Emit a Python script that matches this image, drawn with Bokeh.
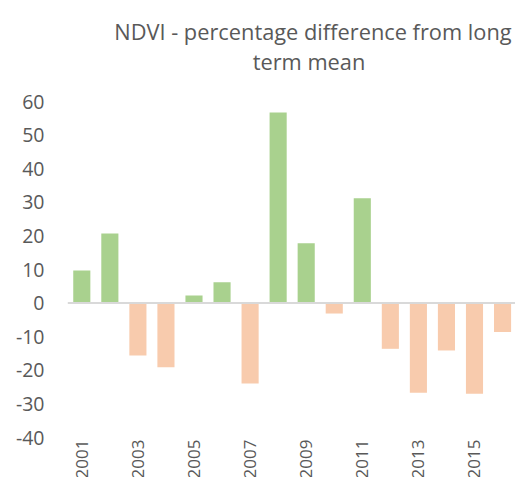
from bokeh.plotting import figure
from bokeh.models import ColumnDataSource, Range1d, FixedTicker, Label, LabelSet
from bokeh.core.properties import value
from bokeh.embed import file_html
from bokeh.resources import INLINE
import math

# ---- data ----
years = list(range(2001, 2018))
ndvi_diff = [9.7, 20.7, -15.6, -19.1, 2.3, 6.2, -23.9, 56.75, 17.8, -3.1,
             31.2, -13.6, -26.7, -14.1, -27.0, -8.6, -18.5]
y_ticks = [-40, -30, -20, -10, 0, 10, 20, 30, 40, 50, 60]
y_tick_labels = [str(t) for t in y_ticks]
x_tick_years = [2001, 2003, 2005, 2007, 2009, 2011, 2013, 2015, 2017]
x_tick_labels = [str(y) for y in x_tick_years]
title_lines = ["NDVI - percentage difference from long", "term mean"]

POS = "#A9D18E"
NEG = "#F8CBAD"
TXT = "#595959"
FONT = "Open Sans"

colors = [POS if v >= 0 else NEG for v in ndvi_diff]
src = ColumnDataSource(dict(x=years, top=ndvi_diff, color=colors))

# frame covers the canvas (except the y-axis strip) so that the title and the
# rotated year labels, which sit outside the -40..60 value band, stay visible
p = figure(width=515, height=477, output_backend="svg", toolbar_location=None,
           x_axis_location=None,
           x_range=Range1d(2000.205, 2016.462),
           y_range=Range1d(-51.9, 90.06),
           min_border_left=59, min_border_right=0,
           min_border_top=0, min_border_bottom=0)
p.outline_line_color = None
p.xgrid.visible = False
p.ygrid.visible = False
p.background_fill_color = "white"
p.border_fill_color = "white"

p.vbar(x="x", top="top", bottom=0, width=0.61, fill_color="color",
       line_color=None, source=src)

# horizontal category axis line at zero, spanning the categories
p.segment(x0=[years[0] - 0.5], x1=[years[-1] + 0.5], y0=[0], y1=[0],
          line_color="#D9D9D9", line_width=2)

# y axis
p.yaxis.ticker = FixedTicker(ticks=y_ticks)
p.yaxis.major_label_overrides = dict(zip(y_ticks, y_tick_labels))
p.yaxis.axis_line_color = None
p.yaxis.major_tick_line_color = None
p.yaxis.minor_tick_line_color = None
p.yaxis.major_tick_out = 0
p.yaxis.major_tick_in = 0
p.yaxis.major_label_standoff = 15
p.yaxis.major_label_text_font = FONT
p.yaxis.major_label_text_font_size = "19.5px"
p.yaxis.major_label_text_color = TXT

# rotated year labels under the value band
lab_src = ColumnDataSource(dict(x=x_tick_years, y=[y_ticks[0]] * len(x_tick_years),
                                text=x_tick_labels))
p.add_layout(LabelSet(x="x", y="y", text="text", source=lab_src,
                      angle=math.pi / 2, y_offset=-2,
                      text_align="right", text_baseline="middle",
                      text_font=value(FONT), text_font_size=value("17px"),
                      text_color=TXT))

# title (two centred lines)
p.add_layout(Label(x=2009.24, y=80.8, text=title_lines[0], text_align="center",
                   text_baseline="alphabetic", text_font=FONT,
                   text_font_size="21.8px", text_color=TXT))
p.add_layout(Label(x=2009.1, y=72.0, text=title_lines[1], text_align="center",
                   text_baseline="alphabetic", text_font=FONT,
                   text_font_size="21.8px", text_color=TXT))

open("out.html", "w").write(file_html(p, INLINE))
